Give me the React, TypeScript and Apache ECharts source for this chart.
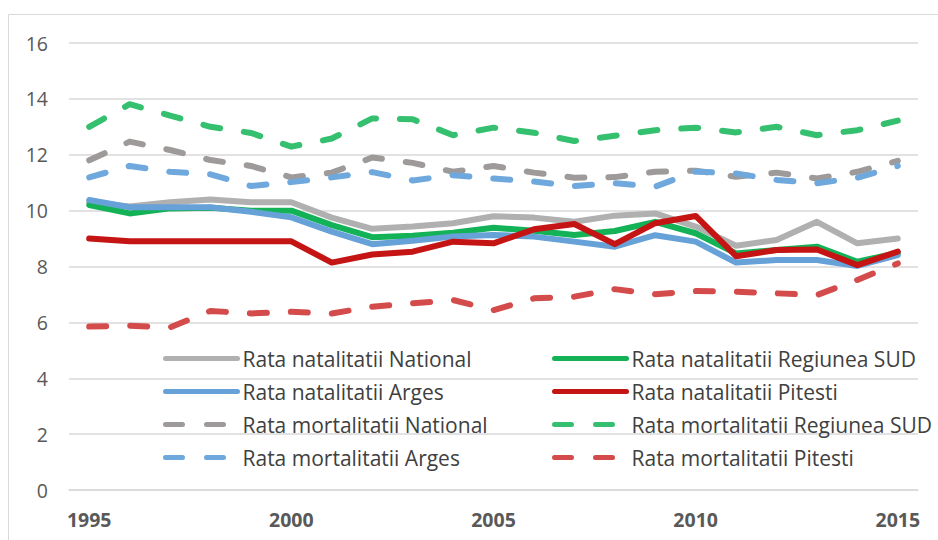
import React, { useEffect, useRef } from "react";
import * as echarts from "echarts";

const years = ["1995","1996","1997","1998","1999","2000","2001","2002","2003","2004","2005","2006","2007","2008","2009","2010","2011","2012","2013","2014","2015"];

const natNational = [10.3, 10.15, 10.3, 10.4, 10.3, 10.3, 9.75, 9.35, 9.43, 9.55, 9.8, 9.75, 9.6, 9.82, 9.9, 9.43, 8.74, 8.95, 9.6, 8.83, 9.0];
const natSud = [10.2, 9.9, 10.08, 10.1, 10.0, 10.0, 9.48, 9.05, 9.1, 9.21, 9.39, 9.28, 9.13, 9.27, 9.6, 9.19, 8.47, 8.59, 8.71, 8.17, 8.49];
const natArges = [10.38, 10.12, 10.12, 10.12, 9.96, 9.76, 9.25, 8.8, 8.92, 9.07, 9.13, 9.07, 8.89, 8.71, 9.12, 8.89, 8.14, 8.23, 8.23, 8.02, 8.41];
const natPitesti = [9.0, 8.9, 8.9, 8.9, 8.9, 8.9, 8.14, 8.43, 8.53, 8.89, 8.83, 9.33, 9.52, 8.8, 9.55, 9.81, 8.37, 8.59, 8.61, 8.05, 8.53];
const mortNational = [11.8, 12.47, 12.17, 11.81, 11.6, 11.19, 11.36, 11.9, 11.71, 11.39, 11.6, 11.36, 11.18, 11.2, 11.39, 11.43, 11.21, 11.36, 11.15, 11.39, 11.78];
const mortSud = [13.0, 13.81, 13.4, 13.0, 12.78, 12.29, 12.58, 13.3, 13.27, 12.7, 12.97, 12.79, 12.49, 12.68, 12.88, 12.97, 12.8, 13.0, 12.7, 12.88, 13.22];
const mortArges = [11.19, 11.6, 11.39, 11.3, 10.88, 11.02, 11.19, 11.38, 11.08, 11.27, 11.15, 11.04, 10.88, 10.98, 10.86, 11.4, 11.33, 11.1, 10.98, 11.18, 11.6];
const mortPitesti = [5.85, 5.88, 5.82, 6.41, 6.32, 6.38, 6.32, 6.56, 6.68, 6.8, 6.44, 6.86, 6.92, 7.19, 7.01, 7.12, 7.1, 7.04, 6.98, 7.52, 8.11];

const names = [
  "Rata natalitatii National",
  "Rata natalitatii Regiunea SUD",
  "Rata natalitatii Arges",
  "Rata natalitatii Pitesti",
  "Rata mortalitatii National",
  "Rata mortalitatii Regiunea SUD",
  "Rata mortalitatii Arges",
  "Rata mortalitatii Pitesti",
];
const values = [natNational, natSud, natArges, natPitesti, mortNational, mortSud, mortArges, mortPitesti];
const colors = ["#B0B0B0", "#14B257", "#66A1D8", "#C41414", "#9E9A9A", "#35C06F", "#6FA8DC", "#D44B4B"];

export default function App() {
  const ref = useRef<HTMLDivElement>(null);
  useEffect(() => {
    document.body.style.margin = "0";
    const chart = echarts.init(ref.current!, undefined, { renderer: "svg" });
    const font = "'Open Sans', 'Noto Sans', sans-serif";
    const series = names.map((n, i) => {
      const dashed = i >= 4;
      return {
        name: n,
        type: "line",
        data: values[i],
        symbol: "none",
        showSymbol: false,
        z: dashed ? 2 : 3,
        lineStyle: {
          color: colors[i],
          width: 6,
          type: dashed ? [17, 24] : "solid",
          cap: "round",
          join: "round",
        },
        itemStyle: { color: colors[i] },
      };
    });
    const legendCommon = {
      orient: "vertical",
      padding: 0,
      itemWidth: 72,
      itemHeight: 14,
      itemGap: 12,
      itemStyle: { opacity: 0 },
      lineStyle: { width: 5 },
      textStyle: { fontFamily: font, fontSize: 21, color: "#404040" },
    };
    chart.setOption({
      animation: false,
      backgroundColor: "#ffffff",
      graphic: [
        {
          type: "rect",
          shape: { x: 8.5, y: 14.5, width: 960, height: 600 },
          style: { fill: "none", stroke: "#D9D9D9", lineWidth: 1 },
          silent: true,
          z: -10,
        },
      ],
      grid: { left: 69, right: 20, top: 43, bottom: 50, containLabel: false },
      legend: [
        { ...legendCommon, left: 163, top: 348, data: [names[0], names[2], names[4], names[6]] },
        { ...legendCommon, left: 552, top: 348, data: [names[1], names[3], names[5], names[7]] },
      ],
      xAxis: {
        type: "category",
        data: years,
        boundaryGap: true,
        axisLine: { show: true, lineStyle: { color: "#D9D9D9", width: 1.5 } },
        axisTick: { show: false },
        axisLabel: {
          interval: 4,
          margin: 19,
          fontFamily: font,
          fontSize: 19.5,
          fontWeight: "bold",
          color: "#595959",
        },
      },
      yAxis: {
        type: "value",
        min: 0,
        max: 16,
        interval: 2,
        axisLine: { show: false },
        axisTick: { show: false },
        splitLine: { lineStyle: { color: "#D9D9D9", width: 1.5 } },
        axisLabel: { margin: 21, fontFamily: font, fontSize: 19.5, color: "#595959" },
      },
      series,
    });
    return () => chart.dispose();
  }, []);
  return <div ref={ref} style={{ width: 938, height: 540 }} />;
}
